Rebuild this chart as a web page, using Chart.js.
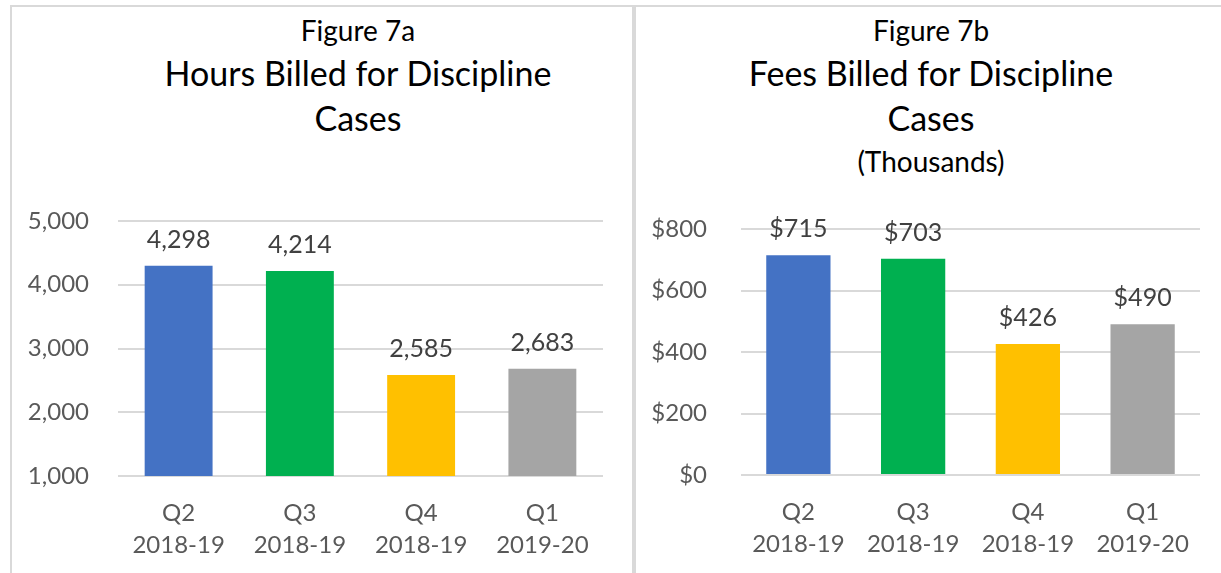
<!DOCTYPE html>
<html>
<head>
<meta charset="utf-8">
<title>Figure 7a / 7b</title>
<script src="https://cdn.jsdelivr.net/npm/chart.js@4/dist/chart.umd.min.js"></script>
<style>
  body { margin: 0; background: #fff; font-family: Lato, sans-serif; }
  #wrap { position: relative; width: 1221px; height: 573px; overflow: hidden; }
  .line { position: absolute; background: #d9d9d9; }
  .ttl { position: absolute; width: 500px; text-align: center; color: #000; white-space: nowrap; line-height: 1; }
  canvas { position: absolute; top: 0; }
</style>
</head>
<body>
<div id="wrap">
  <div class="line" style="left:10px; top:5px; width:1211px; height:2px;"></div>
  <div class="line" style="left:10px; top:5px; width:2px; height:568px;"></div>
  <div class="line" style="left:632px; top:5px; width:4px; height:568px;"></div>

  <div class="ttl" style="left:108px; top:16px; font-size:28px;">Figure 7a</div>
  <div class="ttl" style="left:108px; top:56px; font-size:34px;">Hours Billed for Discipline</div>
  <div class="ttl" style="left:108px; top:101px; font-size:34px;">Cases</div>

  <div class="ttl" style="left:681px; top:16px; font-size:28px;">Figure 7b</div>
  <div class="ttl" style="left:681px; top:56px; font-size:34px;">Fees Billed for Discipline</div>
  <div class="ttl" style="left:681px; top:101px; font-size:34px;">Cases</div>
  <div class="ttl" style="left:681px; top:147px; font-size:28px;">(Thousands)</div>

  <canvas id="hoursChart" style="left:0px;" width="632" height="573"></canvas>
  <canvas id="feesChart" style="left:636px;" width="585" height="573"></canvas>
</div>

<script>
// quarters shown on both charts
var quarters = [["Q2", "2018-19"], ["Q3", "2018-19"], ["Q4", "2018-19"], ["Q1", "2019-20"]];
var hoursBilled = [4298, 4214, 2585, 2683];
var feesBilled = [715, 703, 426, 490]; // thousands of dollars
var hoursTicks = [1000, 2000, 3000, 4000, 5000];
var feesTicks = [0, 200, 400, 600, 800];
var barColors = ["#4472C4", "#00B050", "#FFC000", "#A5A5A5"];

Chart.defaults.font.family = "Lato, sans-serif";
Chart.defaults.animation = false;

// writes the value over each bar
var valueLabels = {
  id: "valueLabels",
  afterDatasetsDraw: function (chart, args, opts) {
    var ctx = chart.ctx;
    var meta = chart.getDatasetMeta(0);
    var values = chart.data.datasets[0].data;
    ctx.save();
    ctx.font = "25px Lato, sans-serif";
    ctx.fillStyle = "#404040";
    ctx.textAlign = "center";
    ctx.textBaseline = "alphabetic";
    meta.data.forEach(function (bar, i) {
      ctx.fillText(opts.format(values[i]), bar.x, bar.y - 18);
    });
    ctx.restore();
  }
};

function makeChart(id, values, ticks, fmt, box) {
  return new Chart(document.getElementById(id), {
    type: "bar",
    data: {
      labels: quarters,
      datasets: [{
        data: values,
        backgroundColor: barColors,
        barPercentage: 0.56,
        categoryPercentage: 1
      }]
    },
    options: {
      responsive: false,
      layout: { padding: { top: box.top, right: box.right, left: 0, bottom: 0 } },
      plugins: {
        legend: { display: false },
        tooltip: { enabled: false },
        valueLabels: { format: fmt }
      },
      scales: {
        x: {
          grid: { display: false, drawTicks: false },
          border: { display: false },
          ticks: { color: "#595959", font: { size: 24, lineHeight: 1.35 }, padding: box.xPad, maxRotation: 0 },
          afterFit: function (scale) { scale.height = box.xHeight; }
        },
        y: {
          min: ticks[0],
          max: ticks[ticks.length - 1],
          afterBuildTicks: function (scale) {
            scale.ticks = ticks.map(function (v) { return { value: v }; });
          },
          grid: { color: "#d9d9d9", lineWidth: 2, drawTicks: false },
          border: { display: false },
          ticks: {
            color: "#595959",
            font: { size: 24 },
            padding: box.yPad,
            callback: function (v) { return fmt(v); }
          },
          afterFit: function (scale) { scale.width = box.yWidth; }
        }
      }
    },
    plugins: [valueLabels]
  });
}

makeChart("hoursChart", hoursBilled, hoursTicks,
  function (v) { return v.toLocaleString("en-US"); },
  { top: 221, right: 29, xHeight: 97, yWidth: 118, xPad: 21, yPad: 29 });

makeChart("feesChart", feesBilled, feesTicks,
  function (v) { return "$" + v.toLocaleString("en-US"); },
  { top: 229, right: 21, xHeight: 98, yWidth: 105, xPad: 21, yPad: 34 });
</script>
</body>
</html>
